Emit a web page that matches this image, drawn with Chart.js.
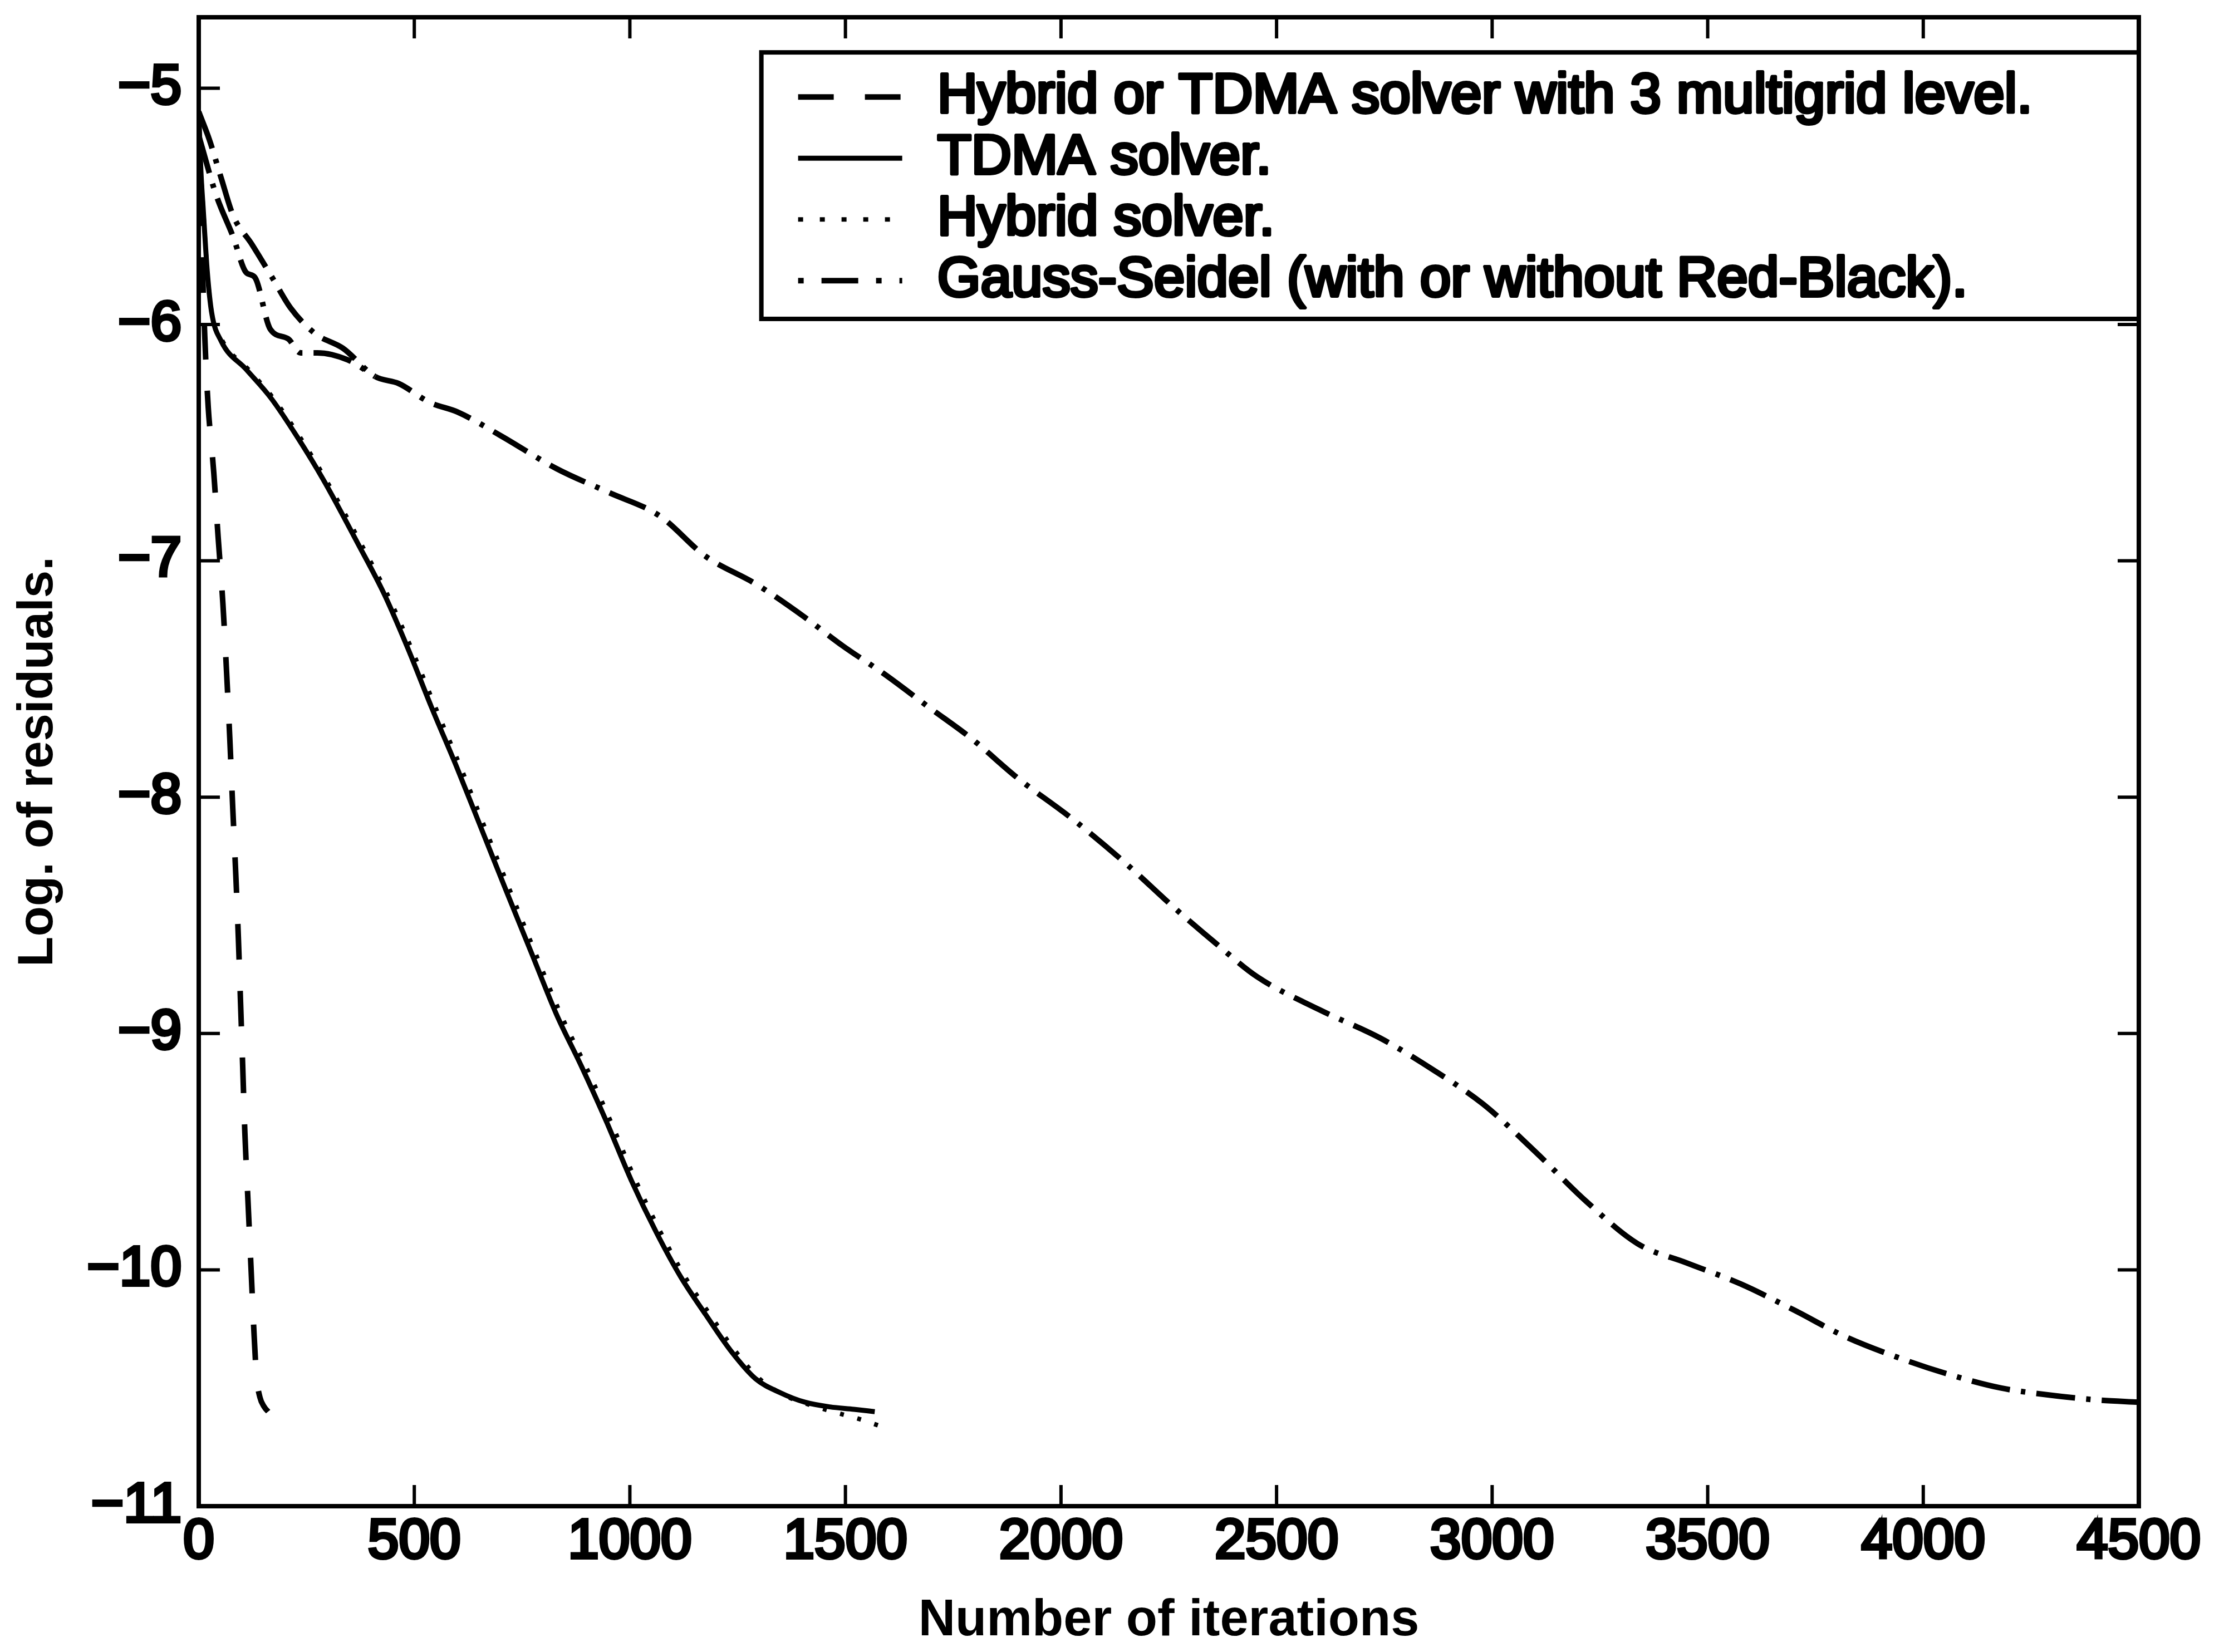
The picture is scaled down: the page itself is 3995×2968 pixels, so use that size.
<!DOCTYPE html>
<html>
<head>
<meta charset="utf-8">
<title>Log. of residuals</title>
<script src="https://cdn.jsdelivr.net/npm/chart.js@4.4.1/dist/chart.umd.min.js"></script>
<style>
  html, body { margin: 0; padding: 0; background: #fff; }
  canvas { display: block; }
</style>
</head>
<body>
<canvas id="myChart" width="3995" height="2968"></canvas>
<script>
// Axis ticks
const xTicks = [0, 500, 1000, 1500, 2000, 2500, 3000, 3500, 4000, 4500];
const yTicks = [-11, -10, -9, -8, -7, -6, -5];

const seriesLabels = [
  'Hybrid or TDMA solver with 3 multigrid level.',
  'TDMA solver.',
  'Hybrid solver.',
  'Gauss-Seidel (with or without Red-Black).'
];

// Hybrid or TDMA with 3 multigrid levels (dashed)
const iterMultigrid = [0, 6, 14, 22, 30, 35, 45, 56, 64, 72, 79, 86, 92, 97, 102, 107, 114, 121, 128, 134, 142, 152, 161];
const resMultigrid = [-5.15, -5.6, -6.05, -6.35, -6.52, -6.63, -6.9, -7.18, -7.45, -7.75, -8.05, -8.33, -8.6, -8.87, -9.14, -9.42, -9.7, -9.98, -10.26, -10.45, -10.54, -10.58, -10.6];

// TDMA solver (solid)
const iterTdma = [0, 5, 10, 20, 30, 52, 110, 167, 230, 290, 370, 430, 485, 540, 600, 657, 714, 772, 830, 888, 945, 1003, 1061, 1118, 1176, 1233, 1291, 1349, 1406, 1464, 1520, 1568];
const resTdma = [-5.1, -5.35, -5.5, -5.78, -5.95, -6.07, -6.19, -6.31, -6.48, -6.66, -6.93, -7.14, -7.37, -7.62, -7.88, -8.14, -8.4, -8.66, -8.92, -9.14, -9.37, -9.62, -9.84, -10.03, -10.19, -10.34, -10.46, -10.52, -10.56, -10.58, -10.59, -10.6];

// Hybrid solver (dotted)
const iterHybrid = [0, 5, 10, 20, 30, 55, 115, 172, 236, 296, 377, 437, 493, 549, 609, 666, 723, 781, 840, 898, 955, 1013, 1071, 1128, 1186, 1243, 1300, 1358, 1415, 1470, 1530, 1579];
const resHybrid = [-5.1, -5.35, -5.5, -5.78, -5.95, -6.07, -6.19, -6.31, -6.48, -6.66, -6.93, -7.14, -7.37, -7.62, -7.88, -8.14, -8.4, -8.66, -8.92, -9.14, -9.37, -9.62, -9.84, -10.03, -10.19, -10.34, -10.46, -10.53, -10.57, -10.6, -10.63, -10.66];

// Gauss-Seidel (dash-dot), first run
const iterGauss = [0, 25, 52, 80, 123, 170, 213, 271, 334, 409, 464, 536, 600, 700, 830, 950, 1069, 1175, 1294, 1399, 1494, 1591, 1694, 1791, 1900, 2025, 2150, 2264, 2360, 2455, 2600, 2741, 2860, 2980, 3100, 3218, 3338, 3450, 3577, 3700, 3816, 3940, 4055, 4180, 4294, 4400, 4500];
const resGauss = [-5.1, -5.22, -5.38, -5.54, -5.66, -5.8, -5.93, -6.04, -6.1, -6.22, -6.25, -6.33, -6.37, -6.47, -6.61, -6.71, -6.81, -6.98, -7.1, -7.23, -7.36, -7.48, -7.62, -7.75, -7.92, -8.09, -8.28, -8.47, -8.62, -8.76, -8.9, -9.02, -9.15, -9.3, -9.5, -9.71, -9.89, -9.97, -10.06, -10.17, -10.28, -10.37, -10.44, -10.5, -10.53, -10.55, -10.56];

// Gauss-Seidel, second run (only differs at the start)
const iterGaussRB = [0, 40, 80, 110, 130, 166, 207, 236, 275, 346, 409];
const resGaussRB = [-5.2, -5.45, -5.63, -5.78, -5.8, -6.02, -6.06, -6.12, -6.12, -6.15, -6.22];

const FONT = "'Liberation Sans', Arial, Helvetica, sans-serif";
const TEXT_SIZE = 100;

function toPoints(xs, ys) {
  return xs.map((x, i) => ({ x: x, y: ys[i] }));
}

// frame round the plot, ticks pointing inwards on all four sides
const frameTicks = {
  id: 'frameTicks',
  afterDraw(chart) {
    const { ctx, chartArea: a, scales } = chart;
    const len = 38;
    ctx.save();
    ctx.strokeStyle = '#000';
    ctx.lineWidth = 6;
    ctx.beginPath();
    xTicks.forEach(v => {
      const px = scales.x.getPixelForValue(v);
      ctx.moveTo(px, a.bottom); ctx.lineTo(px, a.bottom - len);
      ctx.moveTo(px, a.top); ctx.lineTo(px, a.top + len);
    });
    yTicks.forEach(v => {
      const py = scales.y.getPixelForValue(v);
      ctx.moveTo(a.left, py); ctx.lineTo(a.left + len, py);
      ctx.moveTo(a.right, py); ctx.lineTo(a.right - len, py);
    });
    ctx.stroke();
    ctx.lineWidth = 8;
    ctx.strokeRect(a.left, a.top, a.right - a.left, a.bottom - a.top);
    ctx.restore();
  }
};

// boxed legend in the upper right corner
const legendBox = {
  id: 'legendBox',
  afterDraw(chart) {
    const { ctx, chartArea: a } = chart;
    const w = a.right - a.left, h = a.bottom - a.top;
    const left = a.left + 0.29 * w;
    const top = a.top + 0.0236 * h;
    const bottom = a.top + 0.2026 * h;
    const right = a.right;
    ctx.save();
    ctx.fillStyle = '#fff';
    ctx.fillRect(left, top, right - left, bottom - top);
    ctx.strokeStyle = '#000';
    ctx.lineWidth = 8;
    ctx.strokeRect(left, top, right - left, bottom - top);

    const items = chart.data.datasets.filter(d => !d.hideInLegend);
    items.forEach((d, i) => {
      const cy = top + 80 + i * 110;
      ctx.beginPath();
      ctx.lineWidth = d.borderWidth;
      ctx.lineCap = 'butt';
      ctx.setLineDash(d.legendDash || d.borderDash || []);
      ctx.lineDashOffset = d.legendOffset || 0;
      ctx.moveTo(left + 66, cy);
      ctx.lineTo(left + 253, cy);
      ctx.stroke();
      ctx.setLineDash([]);
      ctx.fillStyle = '#000';
      ctx.strokeStyle = '#000';
      ctx.lineWidth = 6;
      ctx.lineJoin = 'round';
      ctx.font = TEXT_SIZE + 'px ' + FONT;
      ctx.textBaseline = 'middle';
      ctx.textAlign = 'left';
      ctx.strokeText(d.label, left + 316, cy);
      ctx.fillText(d.label, left + 316, cy);
    });
    ctx.restore();
  }
};

const lineStyle = {
  borderColor: '#000',
  backgroundColor: '#000',
  pointRadius: 0,
  fill: false,
  borderCapStyle: 'butt',
  cubicInterpolationMode: 'monotone'
};

const myChart = document.getElementById('myChart');

new Chart(myChart, {
  type: 'line',
  data: {
    datasets: [
      Object.assign({}, lineStyle, {
        label: seriesLabels[0],
        data: toPoints(iterMultigrid, resMultigrid),
        borderWidth: 10,
        borderDash: [64, 56]
      }),
      Object.assign({}, lineStyle, {
        label: seriesLabels[1],
        data: toPoints(iterTdma, resTdma),
        borderWidth: 9,
        borderDash: []
      }),
      Object.assign({}, lineStyle, {
        label: seriesLabels[2],
        data: toPoints(iterHybrid, resHybrid),
        borderWidth: 8,
        borderDash: [7, 25],
        legendDash: [9, 30]
      }),
      Object.assign({}, lineStyle, {
        label: seriesLabels[3],
        data: toPoints(iterGauss, resGauss),
        borderWidth: 10,
        borderDash: [70, 20, 8, 20],
        legendDash: [66, 32, 10, 32],
        legendOffset: 98
      }),
      Object.assign({}, lineStyle, {
        label: seriesLabels[3],
        data: toPoints(iterGaussRB, resGaussRB),
        borderWidth: 10,
        borderDash: [70, 20, 8, 20],
        hideInLegend: true
      })
    ]
  },
  options: {
    responsive: false,
    animation: false,
    devicePixelRatio: 1,
    layout: { autoPadding: false, padding: { top: 31, right: 153, bottom: 0, left: 0 } },
    plugins: { legend: { display: false }, tooltip: { enabled: false } },
    scales: {
      x: {
        type: 'linear',
        min: 0,
        max: 4500,
        afterBuildTicks: s => { s.ticks = xTicks.map(v => ({ value: v })); },
        afterFit: s => { s.height = 262; s.paddingLeft = 0; s.paddingRight = 0; },
        grid: { display: false, drawTicks: false },
        border: { display: false },
        ticks: {
          color: '#000',
          padding: 5,
          maxRotation: 0,
          autoSkip: false,
          textStrokeColor: '#000',
          textStrokeWidth: 6,
          font: { family: FONT, size: TEXT_SIZE },
          callback: v => String(v)
        },
        title: {
          display: true,
          text: 'Number of iterations',
          color: '#000',
          padding: { top: 0, bottom: 0 },
          font: { family: FONT, size: 92, weight: 'bold' }
        }
      },
      y: {
        type: 'linear',
        min: -11,
        max: -4.7,
        afterBuildTicks: s => { s.ticks = yTicks.map(v => ({ value: v })); },
        afterFit: s => { s.width = 357; s.paddingTop = 0; s.paddingBottom = 0; },
        grid: { display: false, drawTicks: false },
        border: { display: false },
        ticks: {
          color: '#000',
          padding: 31,
          autoSkip: false,
          textStrokeColor: '#000',
          textStrokeWidth: 6,
          font: { family: FONT, size: TEXT_SIZE },
          callback: v => (v < 0 ? '\u2212' + Math.abs(v) : String(v))
        },
        title: {
          display: true,
          text: 'Log. of residuals.',
          color: '#000',
          padding: { top: 16, bottom: 0 },
          font: { family: FONT, size: 89, weight: 'bold' }
        }
      }
    }
  },
  plugins: [frameTicks, legendBox]
});
</script>
</body>
</html>
